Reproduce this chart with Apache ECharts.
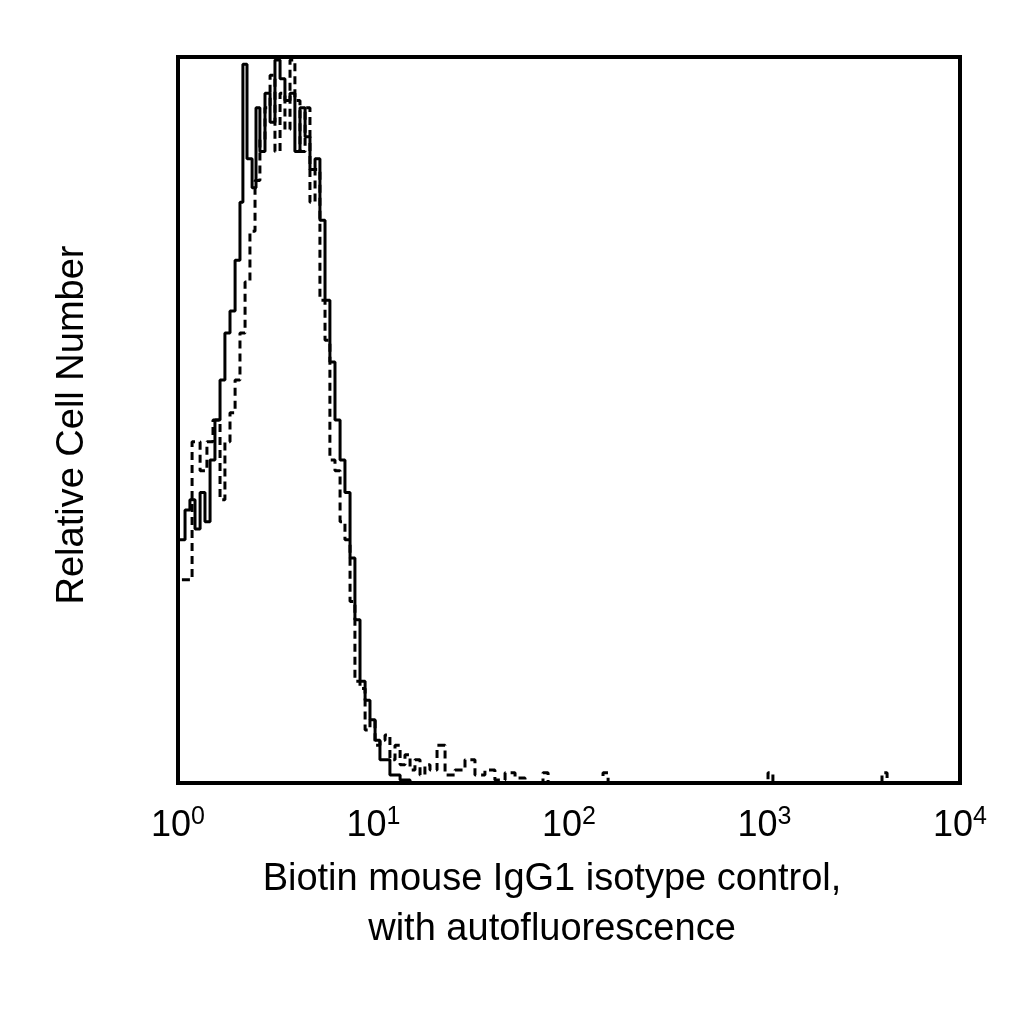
<!DOCTYPE html><html><head><meta charset="utf-8"><script src="https://cdn.jsdelivr.net/npm/echarts@6/dist/echarts.min.js"></script>
<style>body{margin:0;background:#fff}#c{width:1024px;height:1024px}</style></head><body><div id="c"></div><script>
// log10 fluorescence and relative counts (% of max)
const solidX=[0,0.036,0.061,0.087,0.113,0.138,0.164,0.189,0.215,0.24,0.266,0.292,0.317,0.332,0.353,0.379,0.399,0.419,0.445,0.471,0.496,0.522,0.547,0.573,0.598,0.624,0.65,0.675,0.701,0.726,0.752,0.777,0.803,0.829,0.854,0.88,0.905,0.931,0.957,0.982,1.008,1.033,1.084,1.136,1.187,4.0];
const solidY=[33.5,37.6,39,35,40,36,44.5,50,55.5,62,65,72,80,99,86,82,93,87,95,91,99.6,97,94,95,87,93,89,84.5,86,77.5,66.5,58,50,44.5,40,31,22.5,14,11.4,8.7,5.9,3.2,1.1,0.4,0,0];
const dashX=[0.02,0.072,0.113,0.148,0.179,0.215,0.24,0.266,0.292,0.317,0.343,0.368,0.394,0.419,0.445,0.471,0.496,0.522,0.547,0.573,0.598,0.624,0.65,0.675,0.701,0.726,0.752,0.777,0.803,0.829,0.854,0.88,0.905,0.931,0.957,0.982,1.008,1.033,1.059,1.084,1.11,1.136,1.161,1.187,1.212,1.238,1.263,1.289,1.325,1.366,1.417,1.468,1.519,1.57,1.621,1.673,1.724,1.775,1.867,1.893,2.174,2.2,3.018,3.043,3.601,3.627,4.0];
const dashY=[28,47,43,47,50,39,47,51,55.5,62,69,76,83,88.6,93,97.5,87,95,90,99.6,94,87,93,80,84.5,66.5,61,44.5,43,36,33.5,25,14,13,7.3,8.7,5.2,5.9,6.6,3.2,5.2,2.5,3.9,1.8,3.2,1.1,2.5,1.8,5.2,1.1,1.8,3.2,1.1,1.8,0.4,1.4,0.7,0,1.4,0,1.4,0,1.4,0,1.4,0,0];
const tickExps=[0,1,2,3,4];
const xName1='Biotin mouse IgG1 isotype control,';
const xName2='with autofluorescence';
const yName='Relative Cell Number';
const F='Liberation Sans, Arial, sans-serif';
const zip=(a,b)=>a.map((v,i)=>[v,b[i]]);
const ch=echarts.init(document.getElementById('c'));
ch.setOption({
 animation:false,
 grid:{left:178,right:64,top:57,bottom:241,show:true,borderColor:'#000',borderWidth:4,backgroundColor:'transparent'},
 xAxis:{type:'value',min:0,max:4,interval:1,axisLine:{show:false},axisTick:{show:false},splitLine:{show:false},
  axisLabel:{margin:22,formatter:v=>tickExps.includes(v)?'{b|10}{s|'+v+'}':'',rich:{b:{fontFamily:F,fontSize:36,color:'#000'},s:{fontFamily:F,fontSize:25,color:'#000',verticalAlign:'top',padding:[0,0,18,0]}}}},
 yAxis:{type:'value',min:0,max:100,axisLine:{show:false},axisTick:{show:false},splitLine:{show:false},axisLabel:{show:false}},
 graphic:[
  {type:'text',x:552,y:905,style:{text:xName1+'\n'+xName2,font:'38px '+F,fill:'#000',textAlign:'center',textVerticalAlign:'middle',lineHeight:50},originX:0,originY:0},
  {type:'text',x:73,y:425,rotation:Math.PI/2,style:{text:yName,font:'38px '+F,fill:'#000',textAlign:'center',textVerticalAlign:'middle'}}
 ],
 series:[
  {type:'line',step:'end',symbol:'none',data:zip(solidX,solidY),lineStyle:{color:'#000',width:3}},
  {type:'line',step:'end',symbol:'none',data:zip(dashX,dashY),lineStyle:{color:'#000',width:3,type:[8,5]}}
 ]
});
</script></body></html>
